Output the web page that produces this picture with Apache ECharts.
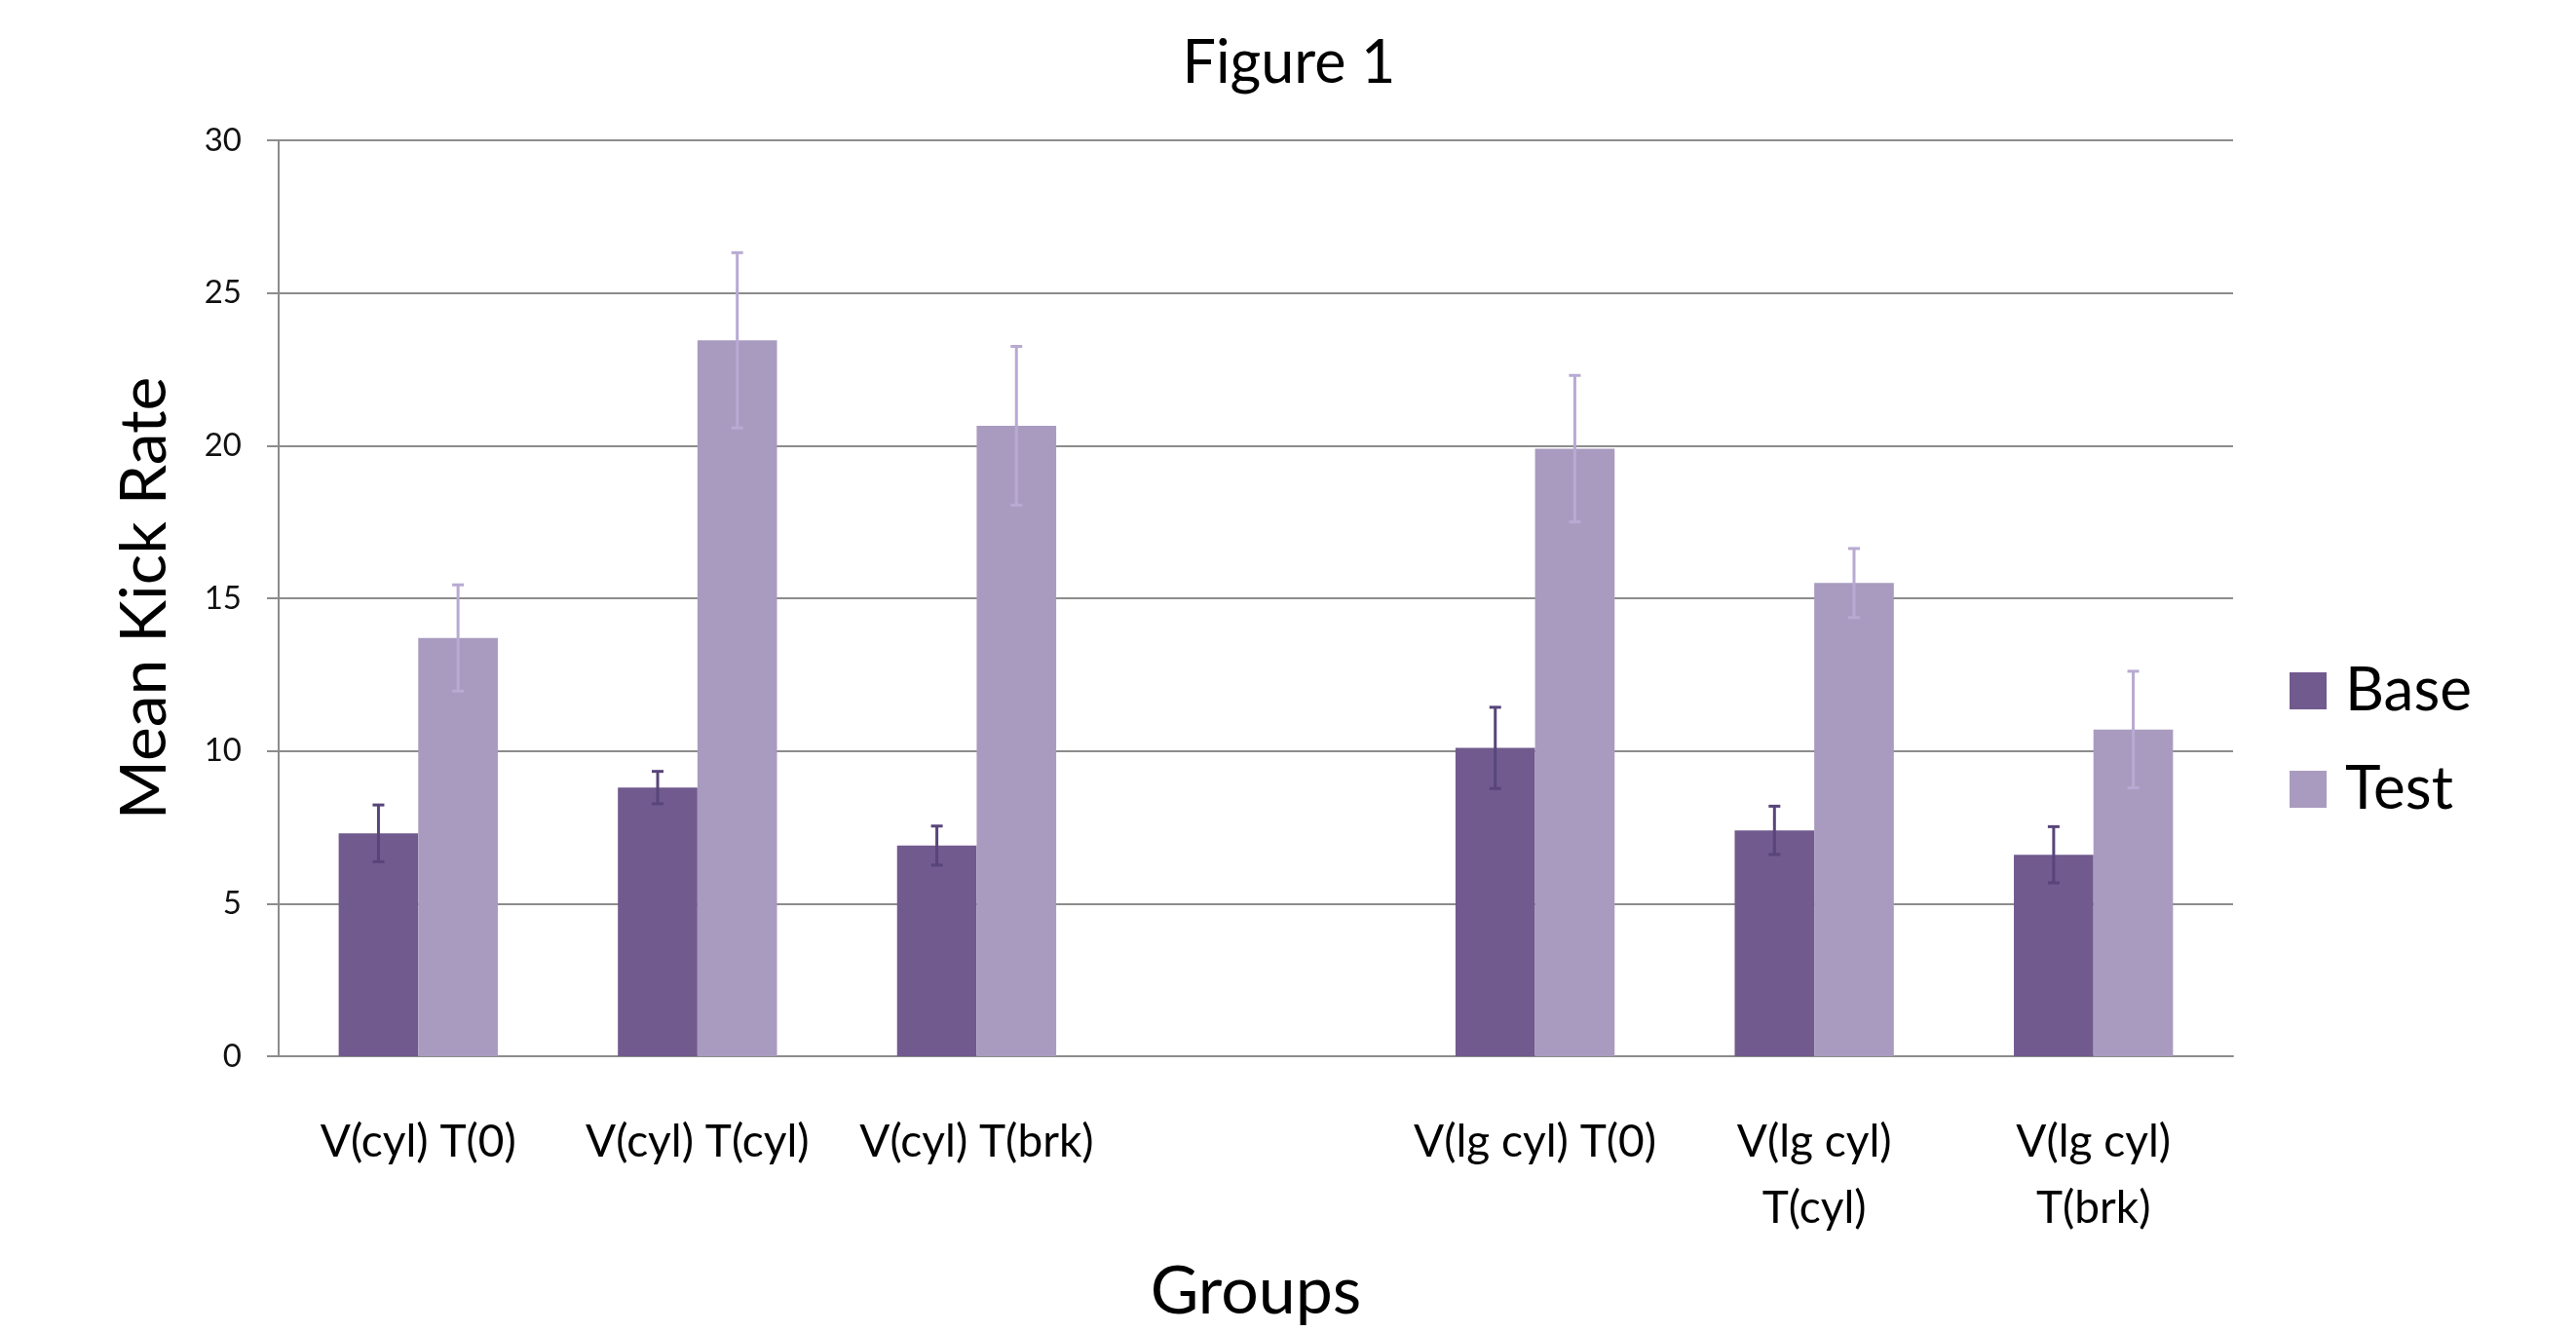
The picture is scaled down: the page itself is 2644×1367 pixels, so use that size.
<!DOCTYPE html>
<html>
<head>
<meta charset="utf-8">
<script src="https://cdn.jsdelivr.net/npm/echarts@6/dist/echarts.min.js"></script>
<style>
  html, body { margin: 0; padding: 0; background: #fff; }
  #chart { width: 2644px; height: 1367px; }
</style>
</head>
<body>
<div id="chart"></div>
<script>
const categories = ['V(cyl) T(0)', 'V(cyl) T(cyl)', 'V(cyl) T(brk)', '', 'V(lg cyl) T(0)', 'V(lg cyl)\nT(cyl)', 'V(lg cyl)\nT(brk)'];
const baseValues = [7.3, 8.8, 6.9, null, 10.1, 7.4, 6.6];
const baseErr = [0.93, 0.53, 0.64, null, 1.33, 0.79, 0.92];
const testValues = [13.7, 23.45, 20.65, null, 19.9, 15.5, 10.7];
const testErr = [1.74, 2.87, 2.6, null, 2.4, 1.13, 1.91];
const yTicks = [0, 5, 10, 15, 20, 25, 30];

const FONT = 'Lato';
const catGap = 0.43;
const colors = ['#715a8e', '#a99bbf'];
const errColors = ['#58457a', '#b8aad2'];

function errData(vals, errs) {
  const out = [];
  vals.forEach((v, i) => {
    if (v == null) return;
    out.push([i, v - errs[i], v + errs[i]]);
  });
  return out;
}

// error bar drawn at the bar's centre; side -1 = Base, +1 = Test
function errRender(side, color) {
  return function (params, api) {
    const x = api.value(0);
    const lo = api.coord([x, api.value(1)]);
    const hi = api.coord([x, api.value(2)]);
    const catW = api.size([1, 0])[0];
    const barW = catW * (1 - catGap) / 2;
    const cx = lo[0] + side * barW / 2;
    const cap = 6;
    const style = { stroke: color, lineWidth: 3 };
    return {
      type: 'group',
      children: [
        { type: 'line', shape: { x1: cx, y1: lo[1], x2: cx, y2: hi[1] }, style: style },
        { type: 'line', shape: { x1: cx - cap, y1: hi[1], x2: cx + cap, y2: hi[1] }, style: style },
        { type: 'line', shape: { x1: cx - cap, y1: lo[1], x2: cx + cap, y2: lo[1] }, style: style }
      ]
    };
  };
}

const chart = echarts.init(document.getElementById('chart'));
chart.setOption({
  backgroundColor: '#fff',
  animation: false,
  color: colors,
  textStyle: { fontFamily: FONT },
  title: {
    text: 'Figure 1',
    left: 1318,
    top: 30,
    textAlign: 'center',
    textStyle: { fontFamily: FONT, fontSize: 61, fontWeight: 'normal', color: '#000' }
  },
  legend: {
    data: ['Base', 'Test'],
    orient: 'vertical',
    left: 2345,
    top: 673,
    icon: 'rect',
    itemWidth: 38,
    itemHeight: 38,
    itemGap: 39,
    textStyle: { fontFamily: FONT, fontSize: 62, color: '#000', padding: [0, 0, 0, 14] }
  },
  grid: { left: 286, right: 352, top: 144, bottom: 283 },
  xAxis: {
    type: 'category',
    data: categories,
    name: 'Groups',
    nameLocation: 'middle',
    nameGap: 208,
    nameTextStyle: { fontFamily: FONT, fontSize: 68, color: '#000' },
    axisLine: { show: true, lineStyle: { color: '#8c8c8c', width: 2 } },
    axisTick: { show: false },
    axisLabel: {
      interval: 0,
      margin: 54,
      fontFamily: FONT,
      fontSize: 46,
      lineHeight: 68,
      color: '#000'
    }
  },
  yAxis: {
    type: 'value',
    min: yTicks[0],
    max: yTicks[yTicks.length - 1],
    interval: 5,
    name: 'Mean Kick Rate',
    nameLocation: 'middle',
    nameGap: 104,
    nameTextStyle: { fontFamily: FONT, fontSize: 66, color: '#000' },
    axisLine: { show: true, lineStyle: { color: '#8c8c8c', width: 2 } },
    axisTick: { show: true, length: 12, lineStyle: { color: '#8c8c8c', width: 2 } },
    axisLabel: { margin: 38, fontFamily: FONT, fontSize: 33, color: '#111' },
    splitLine: { show: true, lineStyle: { color: '#8c8c8c', width: 2 } }
  },
  series: [
    {
      name: 'Base',
      type: 'bar',
      data: baseValues,
      barGap: '0%',
      barCategoryGap: (catGap * 100) + '%',
      itemStyle: { color: colors[0] }
    },
    {
      name: 'Test',
      type: 'bar',
      data: testValues,
      itemStyle: { color: colors[1] }
    },
    {
      name: 'BaseErr',
      type: 'custom',
      renderItem: errRender(-1, errColors[0]),
      data: errData(baseValues, baseErr),
      encode: { x: 0, y: [1, 2] },
      z: 10
    },
    {
      name: 'TestErr',
      type: 'custom',
      renderItem: errRender(1, errColors[1]),
      data: errData(testValues, testErr),
      encode: { x: 0, y: [1, 2] },
      z: 10
    }
  ]
});
</script>
</body>
</html>
